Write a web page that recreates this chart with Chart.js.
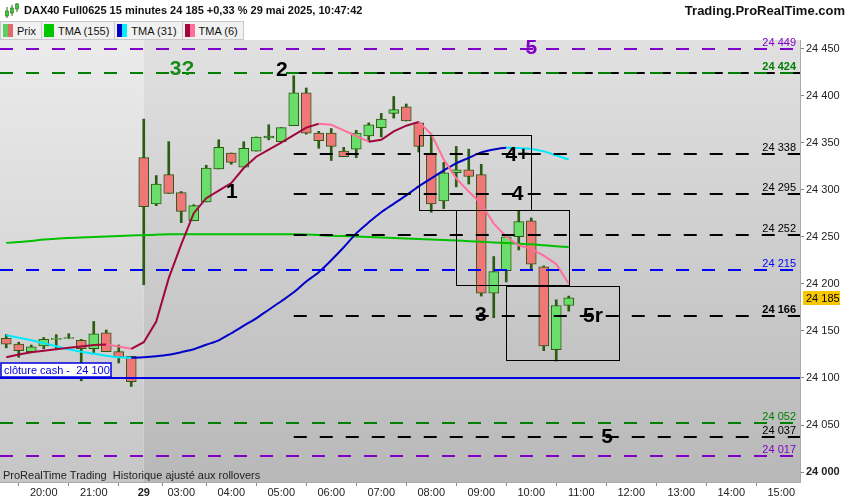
<!DOCTYPE html>
<html lang="fr">
<head>
<meta charset="UTF-8" />
<title>DAX40 Full0625 15 minutes</title>
<script src="https://cdn.jsdelivr.net/npm/chart.js@4.4.1/dist/chart.umd.min.js"></script>
<style>
  body { margin: 0; background: #fff; font-family: "Liberation Sans", Arial, sans-serif; color: #111; }
  #wrap { position: relative; width: 850px; height: 500px; overflow: hidden; }
  #chart { position: absolute; left: 0; top: 0; }
  #hdr { position: absolute; left: 0; top: 0; width: 850px; height: 21px; line-height: 21px; font-weight: bold; }
  #hdr svg { position: absolute; left: 4px; top: 3px; }
  #hdr .title { position: absolute; left: 24px; font-size: 11px; }
  #hdr .site { position: absolute; right: 5px; font-size: 13px; }
  #legend { position: absolute; left: 0; top: 21px; height: 18px; display: flex; font-size: 11px; }
  .tab { display: flex; align-items: center; height: 17px; border: 1px solid #c9c9c9; border-left: none; background: #f1f1f1; padding: 0 5px 0 2px; }
  .sw { width: 10px; height: 13px; margin-right: 4px; display: flex; }
  .sw span { flex: 1; }
</style>
</head>
<body>
<div id="wrap">
  <canvas id="chart" width="850" height="500"></canvas>
  <div id="hdr">
    <svg width="16" height="16" viewBox="0 0 16 16">
      <line x1="3" y1="4" x2="3" y2="15" stroke="#2e6b12" stroke-width="1" />
      <rect x="1.5" y="8" width="3" height="5" fill="#3cc83c" stroke="#2e6b12" stroke-width="0.6" />
      <line x1="8" y1="2" x2="8" y2="13" stroke="#2e6b12" stroke-width="1" />
      <rect x="6.5" y="5" width="3" height="5" fill="#3cc83c" stroke="#2e6b12" stroke-width="0.6" />
      <line x1="13" y1="0" x2="13" y2="9" stroke="#2e6b12" stroke-width="1" />
      <rect x="11.5" y="1" width="3" height="5" fill="#3cc83c" stroke="#2e6b12" stroke-width="0.6" />
    </svg>
    <span class="title">DAX40 Full0625 15 minutes 24 185 +0,33 % 29 mai 2025, 10:47:42</span>
    <span class="site">Trading.ProRealTime.com</span>
  </div>
  <div id="legend">
    <div class="tab" style="border-left:1px solid #c9c9c9"><div class="sw"><span style="background:#5ccf5c"></span><span style="background:#e06a6a"></span></div>Prix</div>
    <div class="tab"><div class="sw"><span style="background:#00c800"></span></div>TMA (155)</div>
    <div class="tab"><div class="sw"><span style="background:#0000c8"></span><span style="background:#00f0ff"></span></div>TMA (31)</div>
    <div class="tab"><div class="sw"><span style="background:#a0073c"></span><span style="background:#ff6f9c"></span></div>TMA (6)</div>
  </div>
</div>

<script>
  // bougies 15 minutes (19:15 la veille -> 10:45), puis créneaux vides jusqu'à 15:15
  const times = [
    "19:15", "19:30", "19:45", "20:00", "20:15", "20:30", "20:45", "21:00", "21:15", "21:30", "21:45",
    "02:15", "02:30", "02:45", "03:00", "03:15", "03:30", "03:45", "04:00", "04:15", "04:30", "04:45",
    "05:00", "05:15", "05:30", "05:45", "06:00", "06:15", "06:30", "06:45", "07:00", "07:15", "07:30",
    "07:45", "08:00", "08:15", "08:30", "08:45", "09:00", "09:15", "09:30", "09:45", "10:00", "10:15",
    "10:30", "10:45", "11:00", "11:15", "11:30", "11:45", "12:00", "12:15", "12:30", "12:45", "13:00",
    "13:15", "13:30", "13:45", "14:00", "14:15", "14:30", "14:45", "15:00", "15:15",
  ];
  const dayStart = 11; // première bougie du 29

  const opens = [24142, 24136, 24128, 24134, 24141, 24142, 24140, 24131, 24148, 24128, 24123,
    24334, 24285, 24316, 24297, 24267, 24287, 24322, 24339, 24324, 24341, 24355, 24351, 24368, 24403,
    24360, 24360, 24341, 24343, 24357, 24366, 24381, 24388, 24371, 24338, 24288, 24318, 24321, 24316,
    24190, 24214, 24250, 24267, 24218, 24130, 24177];
  const highs = [24146, 24138, 24135, 24143, 24146, 24147, 24141, 24160, 24151, 24135, 24123,
    24375, 24315, 24351, 24298, 24284, 24326, 24353, 24339, 24351, 24356, 24369, 24366, 24421, 24408,
    24362, 24365, 24345, 24363, 24371, 24381, 24399, 24391, 24372, 24358, 24329, 24346, 24343, 24327,
    24229, 24252, 24278, 24270, 24219, 24183, 24187];
  const lows = [24132, 24122, 24128, 24131, 24131, 24142, 24097, 24127, 24128, 24116, 24091,
    24199, 24283, 24296, 24265, 24267, 24287, 24322, 24327, 24324, 24341, 24353, 24351, 24368, 24359,
    24344, 24331, 24335, 24334, 24351, 24356, 24376, 24373, 24340, 24276, 24280, 24303, 24306, 24187,
    24164, 24202, 24236, 24215, 24129, 24118, 24171];
  const closes = [24136, 24129, 24133, 24141, 24142, 24143, 24131, 24147, 24128, 24122, 24096,
    24282, 24306, 24296, 24277, 24283, 24323, 24345, 24329, 24344, 24356, 24357, 24366, 24403, 24360,
    24352, 24346, 24335, 24360, 24369, 24375, 24385, 24373, 24346, 24285, 24318, 24321, 24314, 24190,
    24213, 24250, 24266, 24221, 24134, 24177, 24185];

  const tma155 = [24243.5, 24244.5, 24245.5, 24247, 24248, 24248.7, 24249.3, 24249.8, 24250.3, 24250.8, 24251.3,
    24251.7, 24252.2, 24252.6, 24252.6, 24252.6, 24252.6, 24252.6, 24252.6, 24252.6, 24252.6, 24252.6,
    24252.6, 24252.6, 24252.3, 24251.8, 24251, 24250.7, 24250.3, 24249.8, 24249.2, 24248.7, 24248.2,
    24247.6, 24247.2, 24246.6, 24246, 24245.3, 24244.6, 24244, 24243.3, 24242.7, 24242, 24241, 24240, 24239];
  const tma31 = [24145.4, 24142.7, 24140, 24137, 24133.7, 24130.5, 24127.9, 24125.8, 24123.6, 24122, 24121.5,
    24122, 24123, 24124.6, 24127.4, 24130.5, 24135.3, 24140, 24147.5, 24155.5, 24163.4, 24172.5,
    24181.5, 24191, 24202.4, 24212.3, 24225, 24238.8, 24253.6, 24265.3, 24276, 24285, 24294,
    24303.5, 24312, 24320.5, 24328, 24333.8, 24339.6, 24342.8, 24344.6, 24344.2, 24343.3, 24340.7, 24336.4, 24332];
  const tma6 = [24122, 24125, 24127.4, 24129, 24130.5, 24132, 24133.5, 24135, 24135.5, 24133.5, 24131,
    24138, 24160, 24206, 24242, 24275, 24291, 24299, 24307, 24323, 24335, 24342.5, 24350, 24358, 24366,
    24370, 24369, 24363, 24357, 24351, 24353, 24362, 24368, 24372, 24359, 24332, 24312, 24298, 24285,
    24264, 24250, 24241, 24237, 24230, 24221, 24200];

  const lastPrice = 24185;
  const yTicks = [24000, 24050, 24100, 24150, 24200, 24250, 24300, 24350, 24400, 24450];

  // niveaux horizontaux tracés sur le graphique
  const levelValues = [24449, 24424, 24424, 24338, 24295, 24252, 24215, 24166, 24100, 24052, 24037, 24017];
  const levelStyles = [
    { color: "#8000c8", dash: [13, 13], from: 0, label: true },
    { color: "#000", dash: [13, 13], from: 23, label: false },
    { color: "#008000", dash: [13, 13], from: 0, label: true, bold: true },
    { color: "#000", dash: [13, 13], from: 23, label: true },
    { color: "#000", dash: [13, 13], from: 23, label: true },
    { color: "#000", dash: [13, 13], from: 23, label: true },
    { color: "#0000ff", dash: [13, 13], from: 0, label: true },
    { color: "#000", dash: [13, 13], from: 23, label: true, bold: true },
    { color: "#0000e0", dash: [], from: 0, label: false },
    { color: "#008000", dash: [13, 13], from: 0, label: true },
    { color: "#000", dash: [13, 13], from: 23, label: true },
    { color: "#8000c8", dash: [13, 13], from: 0, label: true },
  ];

  // textes posés sur le graphique (index de bougie, prix)
  const notes = [
    { text: "5", i: 42, p: 24450, color: "#8000c8" },
    { text: "3?", i: 14.06, p: 24428, color: "#1a8a1a" },
    { text: "2", i: 22.04, p: 24427, color: "#000" },
    { text: "1", i: 18.04, p: 24297, color: "#000" },
    { text: "4+", i: 40.9, p: 24337, color: "#000" },
    { text: "4", i: 40.9, p: 24295, color: "#000" },
    { text: "3", i: 37.96, p: 24167, color: "#000" },
    { text: "5r", i: 46.94, p: 24166, color: "#000" },
    { text: "5", i: 48.06, p: 24037, color: "#000" },
  ];

  // rectangles (bougie début, bougie fin, haut, bas)
  const boxes = [
    [33, 42, 24358.4, 24278.8],
    [36, 45, 24278.8, 24198.5],
    [40, 49, 24198.2, 24119],
  ];

  const fmt = (v) => String(v).replace(/\B(?=(\d{3})+(?!\d))/g, " ");
  const FONT = '"Liberation Sans", Arial, sans-serif';

  const UP = "#6ade6a", DOWN = "#ef7777", EDGE = "#2c5b12";

  const decor = {
    id: "decor",
    beforeDraw(chart) {
      const { ctx, chartArea: a, scales: { x } } = chart;
      const split = x.getPixelForValue(dayStart);
      let g = ctx.createLinearGradient(0, a.top, 0, a.bottom);
      g.addColorStop(0, "#ebebeb");
      g.addColorStop(1, "#c6c6c6");
      ctx.fillStyle = g;
      ctx.fillRect(a.left, a.top, split - a.left, a.bottom - a.top);
      g = ctx.createLinearGradient(0, a.top, 0, a.bottom);
      g.addColorStop(0, "#e1e1e1");
      g.addColorStop(1, "#b8b8b8");
      ctx.fillStyle = g;
      ctx.fillRect(split, a.top, a.right - split, a.bottom - a.top);
    },
    afterDatasetsDraw(chart) {
      const { ctx, chartArea: a, scales: { x, y } } = chart;
      ctx.save();
      ctx.beginPath();
      ctx.rect(a.left, a.top, a.right - a.left, a.bottom - a.top);
      ctx.clip();

      levelValues.forEach((v, k) => {
        const s = levelStyles[k];
        const py = Math.round(y.getPixelForValue(v));
        const x0 = s.from === 0 ? a.left : x.getPixelForValue(s.from);
        ctx.strokeStyle = s.color;
        ctx.lineWidth = 2;
        ctx.setLineDash(s.dash);
        ctx.beginPath();
        ctx.moveTo(x0, py);
        ctx.lineTo(a.right, py);
        ctx.stroke();
      });
      ctx.setLineDash([]);

      // clôture cash
      const cy = Math.round(y.getPixelForValue(24100));
      ctx.fillStyle = "#fff";
      ctx.fillRect(a.left + 1, cy - 15, 110, 14);
      ctx.strokeStyle = "#0000e0";
      ctx.lineWidth = 1.5;
      ctx.strokeRect(a.left + 1, cy - 15, 110, 14);
      ctx.fillStyle = "#0000e0";
      ctx.font = "11px " + FONT;
      ctx.textAlign = "left";
      ctx.textBaseline = "alphabetic";
      ctx.fillText("clôture cash -  " + fmt(24100), a.left + 4, cy - 4);

      // rectangles
      ctx.strokeStyle = "#000";
      ctx.lineWidth = 1;
      boxes.forEach(([i0, i1, top, bot]) => {
        const x0 = Math.round(x.getPixelForValue(i0)) + 0.5;
        const x1 = Math.round(x.getPixelForValue(i1)) + 0.5;
        const y0 = Math.round(y.getPixelForValue(top)) + 0.5;
        const y1 = Math.round(y.getPixelForValue(bot)) + 0.5;
        ctx.strokeRect(x0, y0, x1 - x0, y1 - y0);
      });

      ctx.font = "11px " + FONT;
      ctx.fillStyle = "#222";
      ctx.textAlign = "left";
      ctx.textBaseline = "alphabetic";
      ctx.fillText("ProRealTime Trading  Historique ajusté aux rollovers", a.left + 3, a.bottom - 3);
      ctx.restore();

      // étiquettes des niveaux (peuvent dépasser le haut de la zone)
      ctx.save();
      levelValues.forEach((v, k) => {
        const s = levelStyles[k];
        if (!s.label) return;
        const py = Math.round(y.getPixelForValue(v));
        ctx.font = (s.bold ? "bold " : "") + "11px " + FONT;
        ctx.fillStyle = s.color;
        ctx.textAlign = "right";
        ctx.textBaseline = "alphabetic";
        ctx.fillText(fmt(v), a.right - 4, py - 3);
      });

      // textes
      ctx.textAlign = "center";
      ctx.textBaseline = "middle";
      ctx.font = "bold 21px " + FONT;
      notes.forEach((n) => {
        ctx.fillStyle = n.color;
        ctx.fillText(n.text, x.getPixelForValue(n.i), y.getPixelForValue(n.p));
      });
      ctx.restore();
    },
    afterDraw(chart) {
      const { ctx, chartArea: a, scales: { y } } = chart;
      const py = Math.round(y.getPixelForValue(lastPrice));
      ctx.save();
      ctx.fillStyle = "#f8c700";
      ctx.fillRect(a.right + 3, py - 7, 37, 14);
      ctx.fillStyle = "#000";
      ctx.font = "11px " + FONT;
      ctx.textAlign = "left";
      ctx.textBaseline = "middle";
      ctx.fillText(fmt(lastPrice), a.right + 6, py + 0.5);
      ctx.restore();
    },
  };

  Chart.defaults.font.family = FONT;
  Chart.defaults.font.size = 11;
  Chart.defaults.color = "#222";

  const rising = (up, down) => (c) => (c.p1.parsed.y < c.p0.parsed.y ? down : up);

  new Chart(document.getElementById("chart"), {
    type: "bar",
    data: {
      labels: times,
      datasets: [
        {
          type: "line",
          label: "TMA (6)",
          data: tma6,
          borderWidth: 2,
          pointRadius: 0,
          tension: 0,
          borderColor: "#a0073c",
          segment: { borderColor: rising("#a0073c", "#ff6f9c") },
          order: 0,
        },
        {
          type: "line",
          label: "TMA (31)",
          data: tma31,
          borderWidth: 2,
          pointRadius: 0,
          tension: 0.3,
          borderColor: "#0000c8",
          segment: { borderColor: rising("#0000c8", "#00e8ff") },
          order: 0,
        },
        {
          type: "line",
          label: "TMA (155)",
          data: tma155,
          borderWidth: 2,
          pointRadius: 0,
          tension: 0.3,
          borderColor: "#00c000",
          order: 0,
        },
        {
          label: "Prix",
          data: opens.map((o, i) => [o, closes[i]]),
          backgroundColor: opens.map((o, i) => (closes[i] >= o ? UP : DOWN)),
          borderColor: EDGE,
          borderWidth: 1,
          borderSkipped: false,
          barThickness: 10,
          grouped: false,
          order: 1,
        },
        {
          label: "Mèches",
          data: lows.map((l, i) => [l, highs[i]]),
          backgroundColor: EDGE,
          borderWidth: 0,
          barThickness: 2,
          grouped: false,
          order: 2,
        },
      ],
    },
    options: {
      responsive: false,
      animation: false,
      devicePixelRatio: 1,
      layout: { padding: { top: 40, left: 0, right: 0, bottom: 0 } },
      plugins: { legend: { display: false }, tooltip: { enabled: false } },
      scales: {
        x: {
          offset: true,
          grid: { display: true, drawOnChartArea: false, drawTicks: true, tickLength: 4, color: "#888" },
          border: { color: "#aaa" },
          ticks: {
            autoSkip: false,
            maxRotation: 0,
            padding: 0,
            color: "#222",
            font: (c) => ({ size: 11, weight: c.tick && c.tick.label === "29" ? "bold" : "normal" }),
            callback: (v, i) => (i === dayStart ? "29" : times[i].endsWith(":00") ? times[i] : null),
          },
          afterFit: (s) => { s.height = 18; },
        },
        y: {
          position: "right",
          min: 23989.5,
          max: 24459,
          grid: { display: true, drawOnChartArea: false, drawTicks: true, tickLength: 4, color: "#888" },
          border: { color: "#aaa" },
          afterBuildTicks: (s) => { s.ticks = yTicks.map((v) => ({ value: v })); },
          ticks: {
            padding: 2,
            color: "#222",
            font: (c) => ({ size: 11, weight: c.tick && c.tick.value === 24000 ? "bold" : "normal" }),
            callback: (v) => fmt(v),
          },
          afterFit: (s) => { s.width = 50; },
        },
      },
    },
    plugins: [decor],
  });
</script>
</body>
</html>
